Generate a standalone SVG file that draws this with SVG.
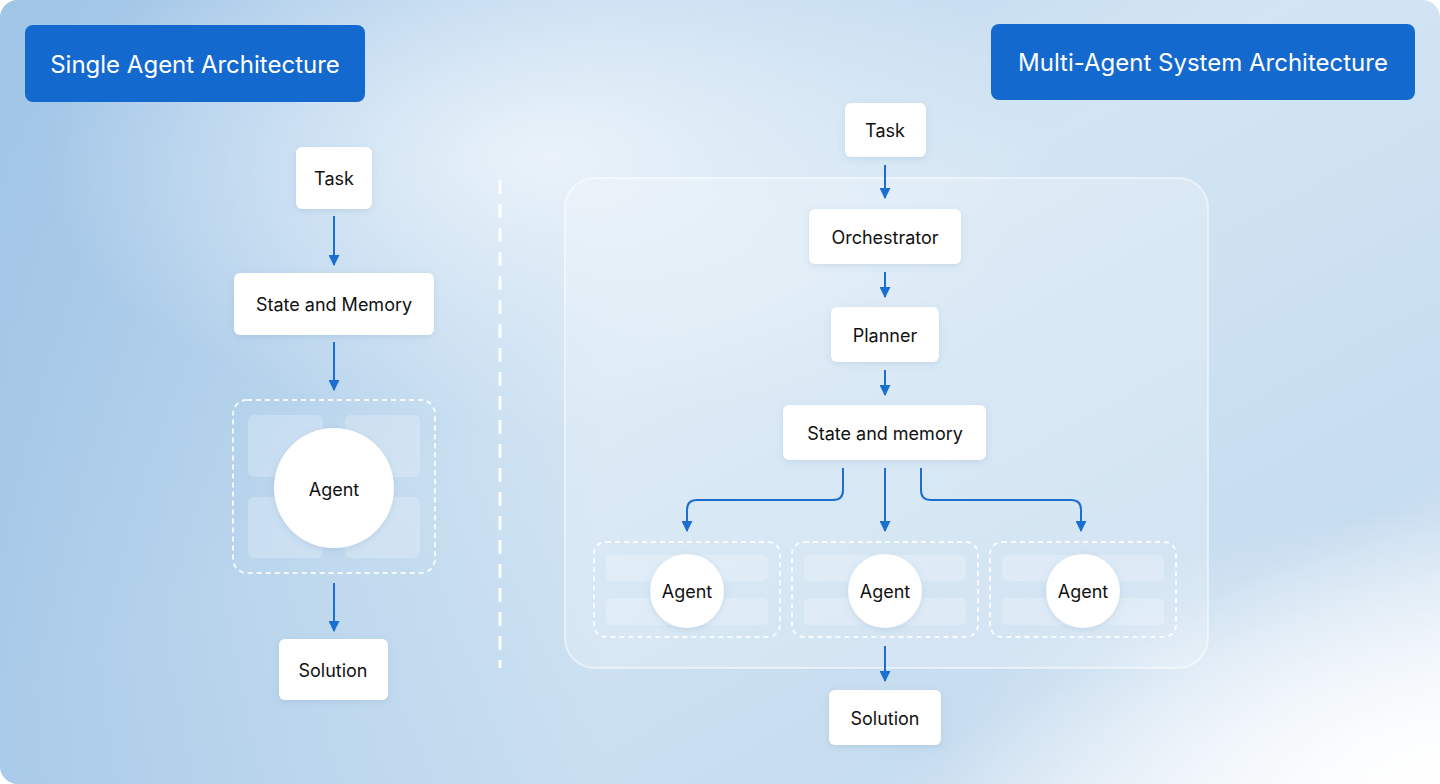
<svg xmlns="http://www.w3.org/2000/svg" width="1440" height="784" viewBox="0 0 1440 784">
<defs>
<linearGradient id="bg" x1="0" y1="0" x2="1" y2="1">
<stop offset="0" stop-color="#a9cbea"/>
<stop offset="0.45" stop-color="#d3e5f3"/>
<stop offset="0.8" stop-color="#c6dcef"/>
<stop offset="1" stop-color="#f6f9fc"/>
</linearGradient>
<linearGradient id="lft" x1="0" y1="0" x2="1" y2="0">
<stop offset="0" stop-color="#9fc4e6" stop-opacity="0.8"/>
<stop offset="1" stop-color="#9fc4e6" stop-opacity="0"/>
</linearGradient>
<radialGradient id="glow" cx="0.38" cy="0.2" r="0.35">
<stop offset="0" stop-color="#eef5fb" stop-opacity="0.9"/>
<stop offset="1" stop-color="#eef5fb" stop-opacity="0"/>
</radialGradient>
<radialGradient id="glow2" cx="1" cy="1" r="0.35">
<stop offset="0" stop-color="#ffffff" stop-opacity="1"/>
<stop offset="1" stop-color="#ffffff" stop-opacity="0"/>
</radialGradient>
<marker id="ah" viewBox="0 0 10 10" refX="9" refY="5" markerWidth="11" markerHeight="11" markerUnits="userSpaceOnUse" orient="auto">
<path d="M0,0 L10,5 L0,10 Z" fill="#1b6fd0"/>
</marker>
<filter id="sh" x="-20%" y="-20%" width="140%" height="160%"><feDropShadow dx="0" dy="2" stdDeviation="3" flood-color="#5a86b0" flood-opacity="0.18"/></filter>
</defs>
<style>
.node{fill:#fff;filter:url(#sh)}
.t{font-family:Inter,"Liberation Sans",sans-serif;font-size:18px;fill:#111;text-anchor:middle;dominant-baseline:central}
.h{font-family:Inter,"Liberation Sans",sans-serif;font-size:24px;fill:#fff;text-anchor:middle;dominant-baseline:central}
.hd{fill:#1469cf}
.c{fill:none;stroke:#1b6fd0;stroke-width:2}
.dash{fill:none;stroke:#fff;stroke-width:2;stroke-dasharray:5 4;opacity:0.85}
.tile{fill:#fff;opacity:0.22}
</style>
<rect width="1440" height="784" rx="18" fill="url(#bg)"/>
<rect width="600" height="784" rx="18" fill="url(#lft)"/>
<rect width="1440" height="784" rx="18" fill="url(#glow)"/>
<rect width="1440" height="784" rx="18" fill="url(#glow2)"/>
<line x1="500" y1="180" x2="500" y2="668" stroke="#fff" stroke-width="3" stroke-dasharray="14 10" opacity="0.9"/>
<rect x="565" y="178" width="643" height="490" rx="30" fill="#fff" fill-opacity="0.22" stroke="#fff" stroke-opacity="0.5" stroke-width="2"/>

<g id="header-left"><rect class="hd" x="25" y="25" width="340" height="77" rx="8"/><text class="h" x="195" y="64">Single Agent Architecture</text></g>
<g id="header-right"><rect class="hd" x="991" y="24" width="424" height="76" rx="8"/><text class="h" x="1203" y="62">Multi-Agent System Architecture</text></g>

<g id="s-task"><rect class="node" x="296" y="147" width="76" height="62" rx="6"/><text class="t" x="334" y="178">Task</text></g>
<g id="s-state"><rect class="node" x="234" y="273" width="200" height="62" rx="6"/><text class="t" x="334" y="304">State and Memory</text></g>
<g id="s-agent">
<rect class="dash" x="233" y="400" width="202" height="173" rx="14"/>
<rect class="tile" x="248" y="415" width="75" height="62" rx="6"/>
<rect class="tile" x="345" y="415" width="75" height="62" rx="6"/>
<rect class="tile" x="248" y="497" width="75" height="61" rx="6"/>
<rect class="tile" x="345" y="497" width="75" height="61" rx="6"/>
<circle cx="334" cy="488" r="60" fill="#fff" filter="url(#sh)"/>
<text class="t" x="334" y="489">Agent</text>
</g>
<g id="s-solution"><rect class="node" x="279" y="639" width="109" height="61" rx="6"/><text class="t" x="333" y="670">Solution</text></g>

<g id="m-task"><rect class="node" x="845" y="103" width="81" height="54" rx="6"/><text class="t" x="885" y="130">Task</text></g>
<g id="m-orch"><rect class="node" x="809" y="209" width="152" height="55" rx="6"/><text class="t" x="885" y="237">Orchestrator</text></g>
<g id="m-planner"><rect class="node" x="831" y="307" width="108" height="55" rx="6"/><text class="t" x="885" y="335">Planner</text></g>
<g id="m-state"><rect class="node" x="783" y="405" width="203" height="55" rx="6"/><text class="t" x="885" y="433">State and memory</text></g>
<g id="m-agent1">
<rect class="dash" x="594" y="542" width="186" height="95" rx="12"/>
<rect class="tile" x="606" y="555" width="162" height="26" rx="5"/><rect class="tile" x="606" y="598" width="162" height="27" rx="5"/>
<circle cx="687" cy="591" r="37" fill="#fff" filter="url(#sh)"/><text class="t" x="687" y="591">Agent</text>
</g>
<g id="m-agent2">
<rect class="dash" x="792" y="542" width="186" height="95" rx="12"/>
<rect class="tile" x="804" y="555" width="162" height="26" rx="5"/><rect class="tile" x="804" y="598" width="162" height="27" rx="5"/>
<circle cx="885" cy="591" r="37" fill="#fff" filter="url(#sh)"/><text class="t" x="885" y="591">Agent</text>
</g>
<g id="m-agent3">
<rect class="dash" x="990" y="542" width="186" height="95" rx="12"/>
<rect class="tile" x="1002" y="555" width="162" height="26" rx="5"/><rect class="tile" x="1002" y="598" width="162" height="27" rx="5"/>
<circle cx="1083" cy="591" r="37" fill="#fff" filter="url(#sh)"/><text class="t" x="1083" y="591">Agent</text>
</g>
<g id="m-solution"><rect class="node" x="829" y="690" width="112" height="55" rx="6"/><text class="t" x="885" y="718">Solution</text></g>

<g id="connectors">
<path class="c" d="M334,216 V265" marker-end="url(#ah)"/>
<path class="c" d="M334,342 V390" marker-end="url(#ah)"/>
<path class="c" d="M334,583 V631" marker-end="url(#ah)"/>
<path class="c" d="M885,165 V198" marker-end="url(#ah)"/>
<path class="c" d="M885,272 V297" marker-end="url(#ah)"/>
<path class="c" d="M885,370 V395" marker-end="url(#ah)"/>
<path class="c" d="M885,468 V531" marker-end="url(#ah)"/>
<path class="c" d="M843,468 V490 Q843,500 833,500 H697 Q687,500 687,510 V531" marker-end="url(#ah)"/>
<path class="c" d="M921,468 V490 Q921,500 931,500 H1071 Q1081,500 1081,510 V531" marker-end="url(#ah)"/>
<path class="c" d="M885,646 V681" marker-end="url(#ah)"/>
</g>
</svg>
